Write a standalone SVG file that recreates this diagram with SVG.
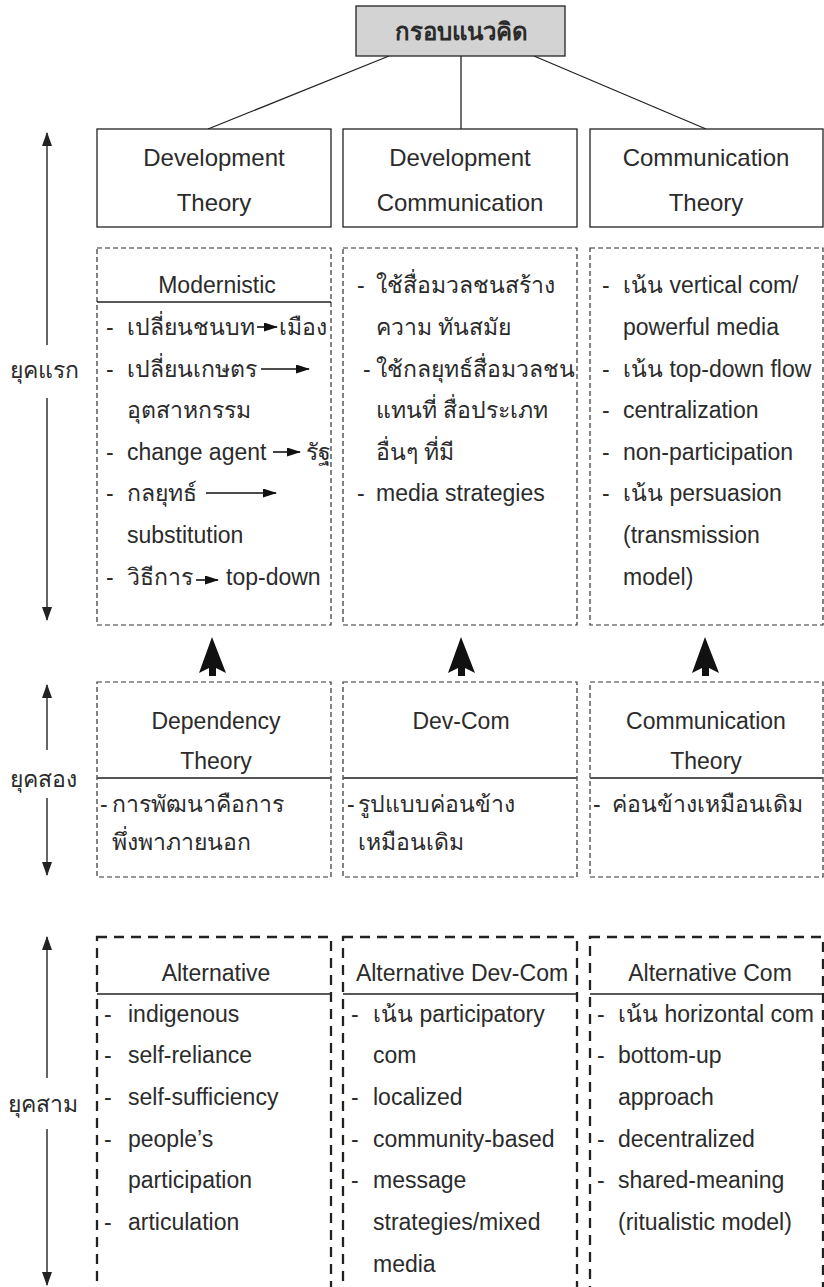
<svg xmlns="http://www.w3.org/2000/svg" width="824" height="1287" viewBox="0 0 824 1287">
<style>
text{font-family:"Liberation Sans","Noto Sans","DejaVu Sans",sans-serif;fill:#2b2b2b}
.h{font-size:24px;text-anchor:middle}
.t{font-size:23px}
.c{font-size:23px;text-anchor:middle}
.era{font-size:23px;text-anchor:middle}
.solid{fill:#fff;stroke:#222;stroke-width:1.3}
.d1{fill:none;stroke:#333;stroke-width:1.2;stroke-dasharray:5 3}
.d3{fill:none;stroke:#222;stroke-width:2.3;stroke-dasharray:10 7}
.sep{stroke:#222;stroke-width:1.3}
.sep2{stroke:#555;stroke-width:2}
.conn{stroke:#222;stroke-width:1.3;fill:none}
.ia{stroke:#111;stroke-width:1.6;marker-end:url(#ah)}
.ea{stroke:#333;stroke-width:1.5;fill:none}
</style>
<defs>
<marker id="ah" markerUnits="userSpaceOnUse" viewBox="0 0 14 9" markerWidth="14" markerHeight="9" refX="13" refY="4.5" orient="auto"><path d="M0,0 L14,4.5 L0,9 z" fill="#111"/></marker>
<marker id="eh" markerUnits="userSpaceOnUse" viewBox="0 0 14 10" markerWidth="14" markerHeight="10" refX="13" refY="5" orient="auto-start-reverse"><path d="M0,0 L14,5 L0,10 z" fill="#222"/></marker>
</defs>

<g id="connectors">
<line class="conn" x1="389" y1="56" x2="208" y2="129"/>
<line class="conn" x1="461" y1="56" x2="461" y2="129"/>
<line class="conn" x1="534" y1="56" x2="706" y2="129"/>
<polygon points="212,637 226,673 216,668 216,676 209,676 209,668 199,673" fill="#111"/>
<polygon points="461,637 475,673 465,668 465,676 458,676 458,668 448,673" fill="#111"/>
<polygon points="705,637 719,673 709,668 709,676 702,676 702,668 692,673" fill="#111"/>
</g>

<g id="title">
<rect x="356" y="6" width="209" height="50" fill="#d3d3d3" stroke="#222" stroke-width="1.3"/>
<text x="461" y="40" font-size="24" font-weight="bold" text-anchor="middle">กรอบแนวคิด</text>
</g>

<g id="era1">
<line class="ea" x1="47" y1="345" x2="47" y2="133" marker-end="url(#eh)"/>
<line class="ea" x1="47" y1="398" x2="47" y2="620" marker-end="url(#eh)"/>
<text class="era" x="44" y="378">ยุคแรก</text>
</g>
<g id="era2">
<line class="ea" x1="47" y1="750" x2="47" y2="685" marker-end="url(#eh)"/>
<line class="ea" x1="47" y1="798" x2="47" y2="875" marker-end="url(#eh)"/>
<text class="era" x="43" y="787">ยุคสอง</text>
</g>
<g id="era3">
<line class="ea" x1="47" y1="1078" x2="47" y2="937" marker-end="url(#eh)"/>
<line class="ea" x1="47" y1="1129" x2="47" y2="1285" marker-end="url(#eh)"/>
<text class="era" x="43" y="1112">ยุคสาม</text>
</g>

<g id="dev-theory">
<rect class="solid" x="97" y="129" width="234" height="98"/>
<text class="h" x="214" y="166">Development</text>
<text class="h" x="214" y="211">Theory</text>
</g>
<g id="dev-comm">
<rect class="solid" x="343" y="129" width="234" height="98"/>
<text class="h" x="460" y="166">Development</text>
<text class="h" x="460" y="211">Communication</text>
</g>
<g id="comm-theory">
<rect class="solid" x="590" y="129" width="233" height="98"/>
<text class="h" x="706" y="166">Communication</text>
<text class="h" x="706" y="211">Theory</text>
</g>

<g id="modernistic">
<rect class="d1" x="97" y="248" width="234" height="377"/>
<text class="c" x="217" y="293">Modernistic</text>
<line class="sep" x1="97" y1="302" x2="331" y2="302"/>
<text class="t" x="106" y="335">-</text><text class="t" x="127" y="335">เปลี่ยนชนบท</text>
<line class="ia" x1="257" y1="327" x2="277" y2="327"/>
<text class="t" x="279" y="335">เมือง</text>
<text class="t" x="106" y="377">-</text><text class="t" x="127" y="377">เปลี่ยนเกษตร</text>
<line class="ia" x1="261" y1="369" x2="309" y2="369"/>
<text class="t" x="127" y="418">อุตสาหกรรม</text>
<text class="t" x="106" y="460">-</text><text class="t" x="127" y="460">change agent</text>
<line class="ia" x1="273" y1="452" x2="300" y2="452"/>
<text class="t" x="306" y="460">รัฐ</text>
<text class="t" x="106" y="501">-</text><text class="t" x="127" y="501">กลยุทธ์</text>
<line class="ia" x1="206" y1="493" x2="276" y2="493"/>
<text class="t" x="127" y="543">substitution</text>
<text class="t" x="106" y="585">-</text><text class="t" x="127" y="585">วิธีการ</text>
<line class="ia" x1="196" y1="580" x2="218" y2="580"/>
<text class="t" x="226" y="585">top-down</text>
</g>

<g id="devcom-1">
<rect class="d1" x="343" y="248" width="234" height="377"/>
<text class="t" x="357" y="293">-</text><text class="t" x="376" y="293">ใช้สื่อมวลชนสร้าง</text>
<text class="t" x="376" y="335">ความ ทันสมัย</text>
<text class="t" x="363" y="377">-</text><text class="t" x="376" y="377">ใช้กลยุทธ์สื่อมวลชน</text>
<text class="t" x="376" y="418">แทนที่ สื่อประเภท</text>
<text class="t" x="376" y="460">อื่นๆ ที่มี</text>
<text class="t" x="357" y="501">-</text><text class="t" x="376" y="501">media strategies</text>
</g>

<g id="commtheory-1">
<rect class="d1" x="590" y="248" width="233" height="377"/>
<text class="t" x="602" y="293">-</text><text class="t" x="623" y="293">เน้น vertical com/</text>
<text class="t" x="623" y="335">powerful media</text>
<text class="t" x="602" y="377">-</text><text class="t" x="623" y="377">เน้น top-down flow</text>
<text class="t" x="602" y="418">-</text><text class="t" x="623" y="418">centralization</text>
<text class="t" x="602" y="460">-</text><text class="t" x="623" y="460">non-participation</text>
<text class="t" x="602" y="501">-</text><text class="t" x="623" y="501">เน้น persuasion</text>
<text class="t" x="623" y="543">(transmission</text>
<text class="t" x="623" y="585">model)</text>
</g>

<g id="dependency">
<rect class="d1" x="97" y="682" width="234" height="195"/>
<text class="c" x="216" y="729">Dependency</text>
<text class="c" x="216" y="769">Theory</text>
<line class="sep2" x1="97" y1="778" x2="331" y2="778"/>
<text class="t" x="100" y="812">-</text><text class="t" x="112" y="812">การพัฒนาคือการ</text>
<text class="t" x="112" y="850">พึ่งพาภายนอก</text>
</g>
<g id="devcom-2">
<rect class="d1" x="343" y="682" width="234" height="195"/>
<text class="c" x="461" y="729">Dev-Com</text>
<line class="sep2" x1="343" y1="778" x2="577" y2="778"/>
<text class="t" x="347" y="812">-</text><text class="t" x="358" y="812">รูปแบบค่อนข้าง</text>
<text class="t" x="358" y="850">เหมือนเดิม</text>
</g>
<g id="commtheory-2">
<rect class="d1" x="590" y="682" width="233" height="195"/>
<text class="c" x="706" y="729">Communication</text>
<text class="c" x="706" y="769">Theory</text>
<line class="sep2" x1="590" y1="778" x2="823" y2="778"/>
<text class="t" x="593" y="812">-</text><text class="t" x="612" y="812">ค่อนข้างเหมือนเดิม</text>
</g>

<g id="alternative">
<rect class="d3" x="97" y="937" width="234" height="380"/>
<text class="c" x="216" y="981">Alternative</text>
<line class="sep" x1="97" y1="994" x2="331" y2="994"/>
<text class="t" x="104" y="1022">-</text><text class="t" x="128" y="1022">indigenous</text>
<text class="t" x="104" y="1063">-</text><text class="t" x="128" y="1063">self-reliance</text>
<text class="t" x="104" y="1105">-</text><text class="t" x="128" y="1105">self-sufficiency</text>
<text class="t" x="104" y="1147">-</text><text class="t" x="128" y="1147">people’s</text>
<text class="t" x="128" y="1188">participation</text>
<text class="t" x="104" y="1230">-</text><text class="t" x="128" y="1230">articulation</text>
</g>
<g id="alt-devcom">
<rect class="d3" x="343" y="937" width="234" height="380"/>
<text class="c" x="462" y="981">Alternative Dev-Com</text>
<line class="sep" x1="343" y1="994" x2="577" y2="994"/>
<text class="t" x="351" y="1022">-</text><text class="t" x="373" y="1022">เน้น participatory</text>
<text class="t" x="373" y="1063">com</text>
<text class="t" x="351" y="1105">-</text><text class="t" x="373" y="1105">localized</text>
<text class="t" x="351" y="1147">-</text><text class="t" x="373" y="1147">community-based</text>
<text class="t" x="351" y="1188">-</text><text class="t" x="373" y="1188">message</text>
<text class="t" x="373" y="1230">strategies/mixed</text>
<text class="t" x="373" y="1272">media</text>
</g>
<g id="alt-com">
<rect class="d3" x="590" y="937" width="233" height="380"/>
<text class="c" x="710" y="981">Alternative Com</text>
<line class="sep" x1="590" y1="994" x2="823" y2="994"/>
<text class="t" x="597" y="1022">-</text><text class="t" x="618" y="1022">เน้น horizontal com</text>
<text class="t" x="597" y="1063">-</text><text class="t" x="618" y="1063">bottom-up</text>
<text class="t" x="618" y="1105">approach</text>
<text class="t" x="597" y="1147">-</text><text class="t" x="618" y="1147">decentralized</text>
<text class="t" x="597" y="1188">-</text><text class="t" x="618" y="1188">shared-meaning</text>
<text class="t" x="618" y="1230">(ritualistic model)</text>
</g>
</svg>
